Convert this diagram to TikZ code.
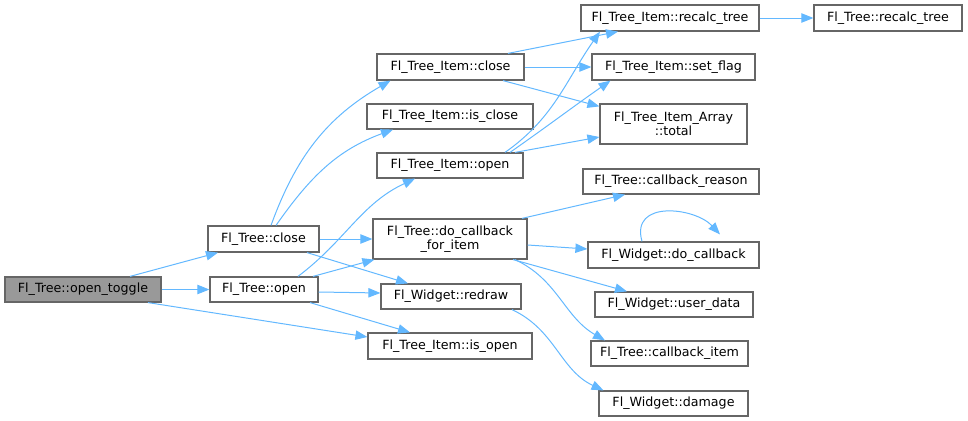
\documentclass[tikz,border=0pt]{standalone}
\usepackage{fontspec}
\setmainfont{DejaVu Sans}
\usetikzlibrary{arrows.meta,calc}
\definecolor{edgeblue}{HTML}{63B8FF}
\definecolor{boxgray}{HTML}{666666}
\definecolor{fillgray}{HTML}{999999}
\begin{document}
\begin{tikzpicture}[x=0.75pt,y=-0.75pt,
  box/.style={draw=boxgray,line width=0.9pt,fill=white,inner sep=0pt,
    font=\fontsize{9.5}{10.5}\selectfont,align=center},
  sz/.style 2 args={minimum width=#1*0.75pt,minimum height=#2*0.75pt},
  edge/.style={draw=edgeblue,line width=0.75pt,-{Triangle[length=9pt,width=7pt]}}]
\useasboundingbox (0,0) rectangle (968,421);

\node[box,sz={156}{25},fill=fillgray] (ot) at (83,289.5) {Fl\_Tree::open\_toggle};
\node[box,sz={111}{26}] (tc) at (263.5,239) {Fl\_Tree::close};
\node[box,sz={108}{25}] (to) at (264,289.5) {Fl\_Tree::open};
\node[box,sz={147}{26}] (tic) at (450.5,67) {Fl\_Tree\_Item::close};
\node[box,sz={166}{25}] (tiis) at (450,116.5) {Fl\_Tree\_Item::is\_close};
\node[box,sz={146}{25}] (tio) at (450,165.5) {Fl\_Tree\_Item::open};
\node[box,sz={178}{26}] (tirt) at (670,18) {Fl\_Tree\_Item::recalc\_tree};
\node[box,sz={163}{26}] (tisf) at (673.5,67) {Fl\_Tree\_Item::set\_flag};
\node[box,sz={147}{40}] (tat) at (673.5,124) {Fl\_Tree\_Item\_Array\\::total};
\node[box,sz={176}{25}] (tcr) at (671,181.5) {Fl\_Tree::callback\_reason};
\node[box,sz={154}{40}] (dcfi) at (450,239) {Fl\_Tree::do\_callback\\\_for\_item};
\node[box,sz={171}{26}] (wdc) at (673.5,255) {Fl\_Widget::do\_callback};
\node[box,sz={140}{25}] (wr) at (451,296.5) {Fl\_Widget::redraw};
\node[box,sz={158}{25}] (wud) at (674,304.5) {Fl\_Widget::user\_data};
\node[box,sz={164}{26}] (tiio) at (450,346) {Fl\_Tree\_Item::is\_open};
\node[box,sz={157}{25}] (tci) at (669.5,353.5) {Fl\_Tree::callback\_item};
\node[box,sz={149}{25}] (wd) at (673.5,403.5) {Fl\_Widget::damage};
\node[box,sz={148}{26}] (trt) at (888,18) {Fl\_Tree::recalc\_tree};

% from open_toggle
\draw[edge] ($(ot.north)+(47,0)$) -- ($(tc.south)+(-45.5,0)$);
\draw[edge] (ot.east) -- (to.west);
\draw[edge] ($(ot.south)+(65,0)$) -- ($(tiio.west)+(0,-9)$);
% from Fl_Tree::close
\draw[edge] ($(tc.north)+(7.5,0)$) to[out=70,in=210] ($(tic.south)+(-60,0)$);
\draw[edge] ($(tc.north)+(12.5,0)$) to[out=55,in=200] ($(tiis.south)+(-57,0)$);
\draw[edge] (tc.east) -- (dcfi.west);
\draw[edge] ($(tc.south)+(43.5,0)$) -- ($(wr.north)+(-43,0)$);
% from Fl_Tree::open
\draw[edge] ($(to.north)+(34,0)$) to[out=37,in=205] ($(tio.south)+(-35,0)$);
\draw[edge] ($(to.north)+(49,0)$) -- ($(dcfi.south west)+(2,0)$);
\draw[edge] ($(to.east)+(0,2.5)$) -- ($(wr.west)+(0,-3.5)$);
\draw[edge] ($(to.south)+(46,0)$) -- ($(tiio.north)+(-40,0)$);
% from Fl_Tree_Item::close
\draw[edge] ($(tic.north)+(57.5,0)$) -- ($(tirt.south)+(-52,0)$);
\draw[edge] (tic.east) -- (tisf.west);
\draw[edge] ($(tic.south)+(52.5,0)$) -- ($(tat.north west)+(0,3)$);
% from Fl_Tree_Item::open
\draw[edge] ($(tio.north)+(55,0)$) to[out=35,in=235] ($(tirt.south)+(-70,0)$);
\draw[edge] ($(tio.north)+(60,0)$) to[out=35,in=215] ($(tisf.south)+(-63,0)$);
\draw[edge] ($(tio.north)+(65,0)$) -- ($(tat.west)+(0,13)$);
% from do_callback_for_item
\draw[edge] ($(dcfi.north)+(72,0)$) -- ($(tcr.south)+(-46,0)$);
\draw[edge] ($(dcfi.east)+(0,6)$) -- ($(wdc.west)+(0,-6)$);
\draw[edge] ($(dcfi.south)+(63,0)$) -- ($(wud.north)+(-47,0)$);
\draw[edge] ($(dcfi.south)+(65,0)$) to[out=-25,in=150] ($(tci.north)+(-64.5,0)$);
% self loop
\draw[edge] ($(wdc.north)+(-31.5,0)$) .. controls ($(wdc.north)+(-43.5,-42)$) and ($(wdc.north)+(21.5,-34)$) .. ($(wdc.north)+(46.5,-7)$);
% redraw -> damage
\draw[edge] ($(wr.south)+(61,0)$) to[out=-25,in=155] ($(wd.north)+(-70,0)$);
% recalc_tree
\draw[edge] (tirt.east) -- (trt.west);
\end{tikzpicture}
\end{document}
